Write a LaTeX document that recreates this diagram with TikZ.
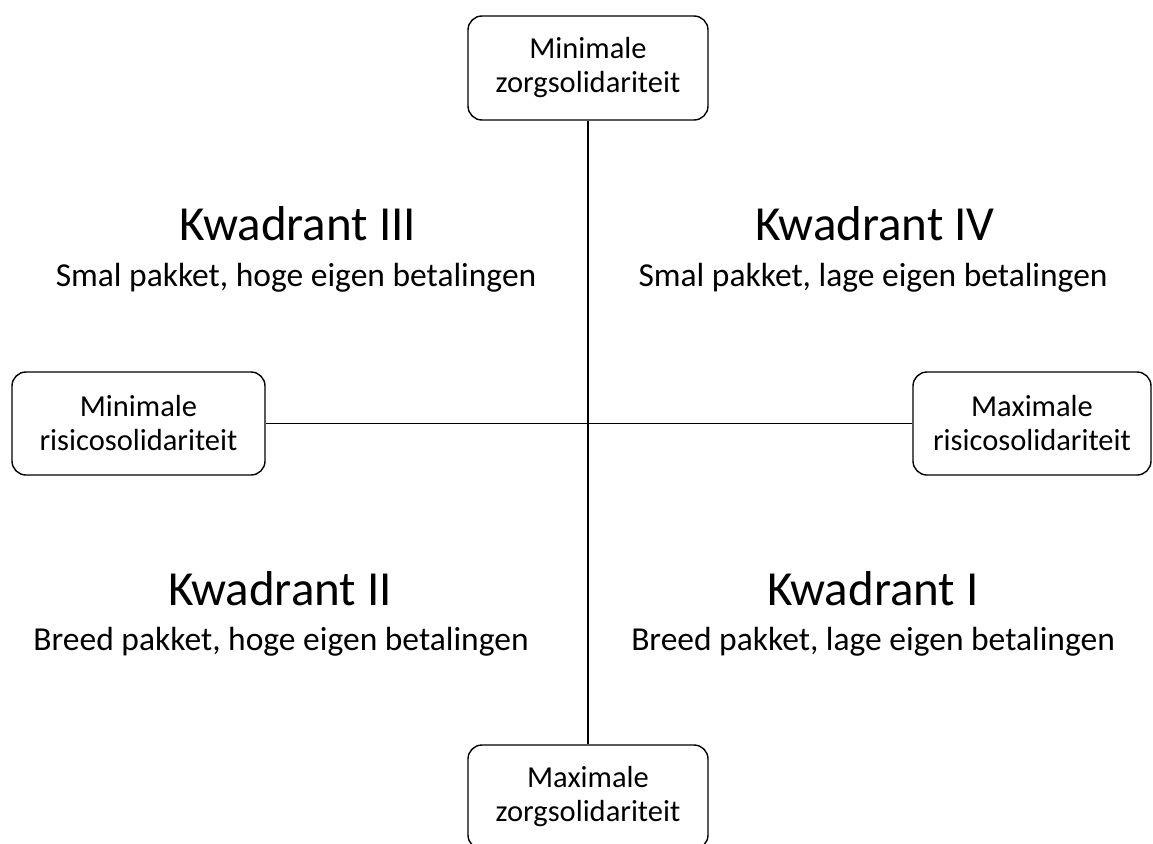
\documentclass[tikz,border=0pt]{standalone}
\usepackage{fontspec}
\setmainfont{Carlito}
\begin{document}
\begin{tikzpicture}[x=1pt,y=-1pt,
  axbox/.style={draw=black,line width=1.4pt,rounded corners=14pt,align=center,
    inner sep=0pt,font=\fontsize{30.5}{34}\selectfont},
  qtitle/.style={anchor=base,font=\fontsize{49}{56}\selectfont},
  qsub/.style={anchor=base,font=\fontsize{33.5}{40}\selectfont},
  axis/.style={line width=1.4pt}]
\useasboundingbox (0,0) rectangle (1153,843);
\node[axbox,minimum width=240pt,minimum height=104pt] (top) at (588,68) {Minimale\\zorgsolidariteit};
\node[axbox,minimum width=240pt,minimum height=104pt] (bot) at (588,797) {Maximale\\zorgsolidariteit};
\node[axbox,minimum width=253pt,minimum height=103pt] (lft) at (138.5,423.5) {Minimale\\risicosolidariteit};
\node[axbox,minimum width=238pt,minimum height=103pt] (rgt) at (1032,423.5) {Maximale\\risicosolidariteit};
\draw[axis] (top) -- (bot);
\draw[axis] (lft) -- (rgt);
\node[qtitle] (q3) at (298,240) {Kwadrant III};
\node[qsub] (q3s) at (296,286) {Smal pakket, hoge eigen betalingen};
\node[qtitle] (q4) at (875,240) {Kwadrant IV};
\node[qsub] (q4s) at (873,286) {Smal pakket, lage eigen betalingen};
\node[qtitle] (q2) at (280,605) {Kwadrant II};
\node[qsub] (q2s) at (281,650) {Breed pakket, hoge eigen betalingen};
\node[qtitle] (q1) at (873,605) {Kwadrant I};
\node[qsub] (q1s) at (873,650) {Breed pakket, lage eigen betalingen};
\end{tikzpicture}
\end{document}
